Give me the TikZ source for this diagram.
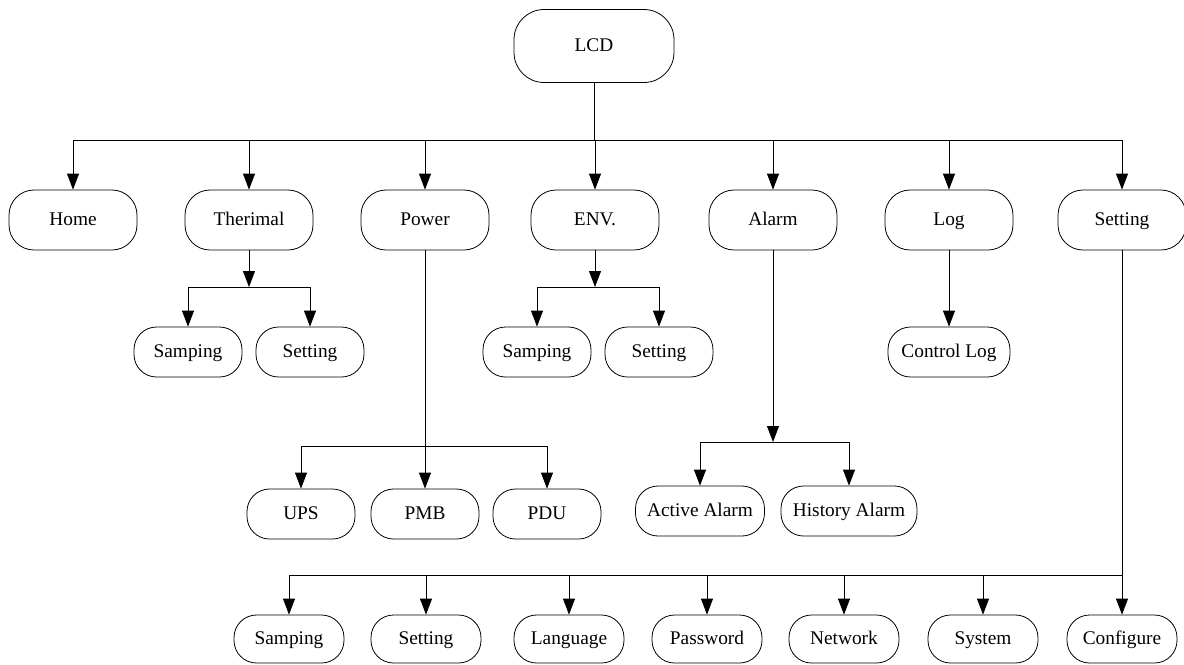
\documentclass[tikz,border=0pt]{standalone}
\usepackage{fontspec}
\setmainfont{Liberation Serif}
\usetikzlibrary{positioning,arrows.meta}
\tikzset{
  menu/.style ={draw, rounded corners=0.5cm, minimum width=2.56cm, minimum height=1.2cm,
                inner sep=2pt, text height=1.6ex, text depth=0.3ex, line width=0.45pt,
                font=\fontsize{11}{13}\selectfont},
  sub/.style  ={menu, rounded corners=0.45cm, minimum width=2.16cm, minimum height=1cm},
  wire/.style ={line width=0.45pt},
  link/.style ={wire, -{Triangle[length=3.2mm,width=2.4mm]}},
}
\begin{document}
\begin{tikzpicture}[x=0.02cm,y=-0.02cm]
    \useasboundingbox (0,0) rectangle (1184,664);
    % --- root ---
    \node[menu,minimum width=3.2cm,minimum height=1.46cm,rounded corners=0.6cm] (lcd) at (594,46){LCD};
    \coordinate (bus) at (594,140);
    \draw[wire] (lcd) -- (bus);
    % --- first level ---
    \foreach \nm/\txt/\xx in {home/Home/73, ther/Therimal/249, power/Power/425, env/ENV./595,
                              alarm/Alarm/773, log/Log/949, setting/Setting/1122}
      {\node[menu] (\nm) at (\xx,220){\txt};
       \draw[link] (bus) -| (\nm);}
    % --- Therimal ---
    \coordinate (therj) at (249,287);
    \node[sub] (thsamp) at (188,352){Samping};
    \node[sub] (thset)  at (310,352){Setting};
    \draw[link] (ther) -- (therj);
    \draw[link] (therj) -| (thsamp);
    \draw[link] (therj) -| (thset);
    % --- ENV. ---
    \coordinate (envj) at (595,287);
    \node[sub] (envsamp) at (537,352){Samping};
    \node[sub] (envset)  at (659,352){Setting};
    \draw[link] (env) -- (envj);
    \draw[link] (envj) -| (envsamp);
    \draw[link] (envj) -| (envset);
    % --- Log ---
    \node[sub,minimum width=2.44cm] (ctrl) at (949,352){Control Log};
    \draw[link] (log) -- (ctrl);
    % --- Power ---
    \coordinate (pwrj) at (425,446);
    \node[sub] (ups) at (301,514){UPS};
    \node[sub] (pmb) at (425,514){PMB};
    \node[sub] (pdu) at (547,514){PDU};
    \draw[wire] (power) -- (pwrj);
    \draw[link] (pwrj) -| (ups);
    \draw[link] (pwrj) -- (pmb);
    \draw[link] (pwrj) -| (pdu);
    % --- Alarm ---
    \coordinate (almj) at (773,442);
    \node[sub,minimum width=2.58cm] (active)  at (700,511){Active Alarm};
    \node[sub,minimum width=2.72cm] (history) at (849,511){History Alarm};
    \draw[link] (alarm) -- (almj);
    \draw[link] (almj) -| (active);
    \draw[link] (almj) -| (history);
    % --- Setting ---
    \coordinate (setj) at (1122,575);
    \draw[wire] (setting) -- (setj);
    \foreach \nm/\txt/\xx in {ssamp/Samping/289, sset/Setting/426, lang/Language/569,
                              pass/Password/707, net/Network/844, sys/System/983, cfg/Configure/1122}
      {\node[sub,minimum width=2.2cm,minimum height=0.96cm] (\nm) at (\xx,639){\txt};
       \draw[link] (setj) -| (\nm);}
  \end{tikzpicture}
\end{document}
